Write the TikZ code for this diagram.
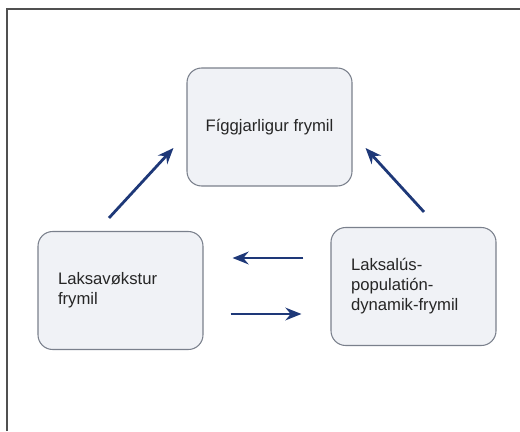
\documentclass[tikz,border=0pt]{standalone}
\usepackage{fontspec}
\setmainfont{Liberation Sans}
\usepackage{xcolor}
\usepackage{tikz}
\usetikzlibrary{positioning, arrows.meta, calc}
\definecolor{navy}{HTML}{1E3878}
\definecolor{boxfill}{HTML}{F0F2F6}
\definecolor{boxline}{HTML}{7A808C}
\definecolor{framegray}{HTML}{505050}

\begin{document}
\begin{tikzpicture}[x=0.75pt, y=-0.75pt,
  box/.style={draw=boxline, fill=boxfill, rounded corners=11pt, line width=0.8pt,
              minimum width=123.75pt, minimum height=88.5pt,
              font=\fontsize{12.5pt}{15pt}\selectfont, text=black!85},
  leftbox/.style={box, align=left, text width=93.75pt, inner xsep=15pt},
  arrow/.style={-{Stealth[length=12pt, width=9.5pt]}, color=navy, line width=2.1pt}
]
  \useasboundingbox (0,0) rectangle (520,431);
  \draw[framegray, line width=0.8pt] (7,431) -- (7,9) -- (520,9);

  \node[box]     (fig) at (269.5,127) {Fíggjarligur frymil\\[6pt]};
  \node[leftbox] (lax) at (120.5,290.5) {Laksavøkstur\\frymil\\[5pt]};
  \node[leftbox] (lus) at (413.5,286.5) {Laksalús-\\populatión-\\dynamik-frymil\\[5pt]};

  \draw[arrow] ([shift={(-11.5,-13)}]lax.north) -- ([shift={(-13,21)}]fig.west);
  \draw[arrow] ([shift={(10.5,-15)}]lus.north)  -- ([shift={(13,21)}]fig.east);
  \draw[arrow] ([shift={(-27,-28.5)}]lus.west)  -- ([shift={(29,-32.5)}]lax.east);
  \draw[arrow] ([shift={(27,23.5)}]lax.east)    -- ([shift={(-29,27.5)}]lus.west);
\end{tikzpicture}
\end{document}
